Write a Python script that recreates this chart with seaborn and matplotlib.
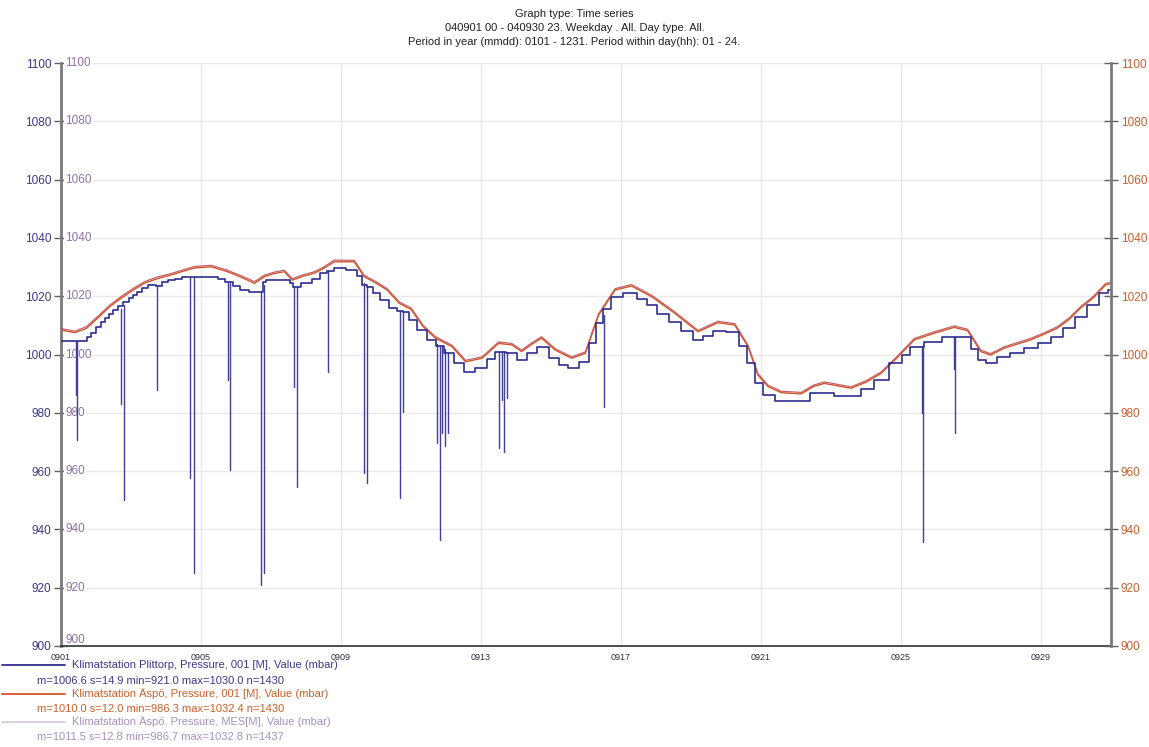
import matplotlib
matplotlib.use("Agg")
import matplotlib.pyplot as plt
import pandas as pd
import seaborn as sns
from matplotlib.lines import Line2D

# ---------------- data ----------------
title_lines = [
    "Graph type: Time series",
    "040901 00 - 040930 23. Weekday . All. Day type. All.",
    "Period in year (mmdd): 0101 - 1231. Period within day(hh): 01 - 24.",
]
x_tick_days = [0, 4, 8, 12, 16, 20, 24, 28]
x_tick_labels = ["0901", "0905", "0909", "0913", "0917", "0921", "0925", "0929"]
y_ticks = [900, 920, 940, 960, 980, 1000, 1020, 1040, 1060, 1080, 1100]

# Klimatstation Plittorp (days since 0901 00, mbar)
pit_days = [0.00, 0.30, 0.73, 0.78, 0.95, 1.06, 1.20, 1.30, 1.42, 1.54, 1.70, 1.87,
            2.00, 2.10, 2.25, 2.39, 2.60, 2.80, 2.96, 3.15, 3.34, 3.60, 4.36, 4.60,
            4.80, 5.00, 5.24, 5.50, 5.75, 5.82, 5.90, 6.48, 6.60, 6.67, 7.04, 7.30,
            7.52, 7.70, 7.90, 8.38, 8.55, 8.66, 8.80, 9.00, 9.23, 9.50, 9.70, 9.85,
            10.04, 10.30, 10.61, 10.80, 11.08, 11.35, 11.65, 12.03, 12.30, 12.51,
            12.89, 13.17, 13.45, 13.74, 14.12, 14.35, 14.60, 14.98, 15.20, 15.36,
            15.60, 15.83, 16.30, 16.60, 16.88, 17.20, 17.54, 17.90, 18.20, 18.50,
            18.77, 19.25, 19.50, 19.72, 19.91, 20.20, 20.58, 21.29, 21.53, 22.05,
            22.10, 22.67, 23.05, 23.43, 23.90, 24.15, 24.38, 24.95, 25.40, 25.90,
            26.10, 26.28, 26.56, 26.94, 27.30, 27.70, 28.10, 28.46, 28.80, 29.13,
            29.50, 29.84, 29.96]
pit_vals = [1004.7, 1004.7, 1004.7, 1006.1, 1007.5, 1009.3, 1011.0, 1012.5, 1014.0,
            1015.3, 1016.5, 1018.1, 1019.5, 1020.5, 1021.6, 1022.7, 1023.8, 1023.5,
            1025.0, 1025.4, 1025.8, 1026.5, 1026.5, 1025.8, 1025.0, 1023.5, 1022.1,
            1021.6, 1021.6, 1025.0, 1025.6, 1025.6, 1024.4, 1023.3, 1024.4, 1026.0,
            1027.9, 1028.5, 1029.6, 1029.0, 1027.0, 1023.8, 1023.0, 1021.0, 1018.7,
            1016.0, 1015.0, 1014.7, 1011.8, 1008.5, 1005.0, 1003.0, 1000.4, 997.0,
            994.1, 995.3, 998.5, 1001.0, 1000.4, 998.1, 1000.5, 1002.7, 998.7, 996.5,
            995.3, 997.5, 1004.0, 1010.7, 1015.5, 1019.8, 1021.0, 1019.0, 1017.0,
            1014.0, 1011.3, 1008.0, 1005.0, 1006.5, 1008.2, 1007.8, 1003.0, 997.0,
            990.1, 986.0, 984.0, 984.0, 986.9, 986.9, 985.8, 985.8, 988.0, 991.2,
            997.0, 1000.0, 1002.5, 1004.4, 1006.1, 1006.1, 1002.0, 998.1, 997.2,
            999.3, 1000.5, 1002.1, 1004.0, 1006.1, 1009.0, 1013.0, 1017.0, 1021.0,
            1022.0]

# Plittorp short drop-outs: time, level before the drop, lowest value
spike_days = [0.42, 0.45, 1.71, 1.79, 2.75, 3.68, 3.80, 4.77, 4.84, 5.72, 5.79,
              6.67, 6.73, 7.62, 8.66, 8.74, 9.69, 9.78, 10.73, 10.83, 10.89, 10.97,
              11.06, 12.51, 12.60, 12.67, 12.74, 15.50, 24.60, 24.64, 25.50, 25.54]
spike_tops = [1004.7, 1004.7, 1015.5, 1017.0, 1023.5, 1026.5, 1026.5, 1025.0, 1024.5,
              1021.6, 1024.0, 1023.3, 1023.3, 1028.5, 1024.5, 1023.5, 1015.0, 1014.7,
              1003.5, 1003.0, 1002.5, 1002.0, 1001.0, 1001.0, 1001.0, 1001.0, 1001.0,
              1013.5, 1003.0, 1003.0, 1006.1, 1006.1]
spike_lows = [986.0, 970.7, 983.0, 950.0, 987.8, 957.6, 925.0, 991.2, 960.4, 921.0,
              925.0, 989.0, 954.7, 994.0, 959.3, 956.0, 950.8, 980.4, 969.5, 936.4,
              973.0, 968.7, 973.0, 967.8, 984.4, 966.7, 985.0, 982.1, 980.0, 935.8,
              995.0, 973.0]

# Klimatstation Aspo, 001 and MES
aspo_days = [0.00, 0.40, 0.73, 1.05, 1.40, 1.73, 2.05, 2.39, 2.75, 3.15, 3.50, 3.82,
             4.29, 4.76, 5.15, 5.53, 5.81, 6.10, 6.38, 6.61, 6.90, 7.24, 7.50, 7.81,
             8.38, 8.66, 9.00, 9.32, 9.66, 9.85, 10.00, 10.35, 10.70, 11.17, 11.56,
             12.03, 12.50, 12.88, 13.16, 13.45, 13.73, 14.12, 14.59, 14.98, 15.36,
             15.83, 16.30, 16.88, 17.54, 18.20, 18.77, 19.25, 19.63, 19.91, 20.20,
             20.58, 21.15, 21.50, 21.81, 22.57, 23.00, 23.43, 23.90, 24.38, 24.95,
             25.52, 25.90, 26.28, 26.56, 26.94, 27.30, 27.70, 28.10, 28.46, 28.80,
             29.13, 29.50, 29.84, 29.96]
aspo_001 = [1008.4, 1007.5, 1009.0, 1012.5, 1016.5, 1019.4, 1022.0, 1024.5, 1026.0,
            1027.3, 1028.6, 1029.7, 1030.1, 1028.4, 1026.5, 1024.4, 1026.7, 1027.8,
            1028.4, 1025.5, 1026.8, 1027.9, 1029.5, 1031.8, 1031.8, 1026.7, 1024.5,
            1022.1, 1017.6, 1016.4, 1015.5, 1009.5, 1005.6, 1002.7, 997.5, 998.7,
            1003.8, 1003.3, 1001.0, 1003.5, 1005.6, 1001.5, 998.7, 1000.4, 1013.5,
            1022.1, 1023.5, 1019.8, 1014.1, 1007.8, 1010.9, 1010.1, 1002.7, 993.0,
            989.0, 986.9, 986.5, 989.0, 990.1, 988.4, 990.5, 993.5, 999.0, 1005.0,
            1007.3, 1009.3, 1008.2, 1001.0, 999.8, 1002.1, 1003.5, 1005.0, 1007.0,
            1009.0, 1012.0, 1015.9, 1019.5, 1023.8, 1024.2]
aspo_mes = [1008.9, 1008.0, 1009.6, 1013.1, 1017.0, 1020.0, 1022.6, 1025.0, 1026.6,
            1027.8, 1029.1, 1030.2, 1030.6, 1028.9, 1027.0, 1025.0, 1027.2, 1028.3,
            1028.9, 1026.0, 1027.3, 1028.4, 1030.0, 1032.4, 1032.3, 1027.2, 1025.0,
            1022.6, 1018.1, 1016.9, 1016.0, 1010.0, 1006.1, 1003.2, 998.0, 999.2,
            1004.3, 1003.8, 1001.5, 1004.0, 1006.1, 1002.0, 999.2, 1000.9, 1014.0,
            1022.6, 1024.0, 1020.3, 1014.6, 1008.3, 1011.4, 1010.6, 1003.2, 993.5,
            989.5, 987.4, 987.0, 989.5, 990.6, 988.9, 991.0, 994.0, 999.5, 1005.5,
            1007.8, 1009.8, 1008.7, 1001.5, 1000.3, 1002.6, 1004.0, 1005.5, 1007.5,
            1009.5, 1012.5, 1016.4, 1020.0, 1024.3, 1024.7]

legend_names = [
    "Klimatstation Plittorp, Pressure, 001 [M], Value (mbar)",
    "Klimatstation Äspö, Pressure, 001 [M], Value (mbar)",
    "Klimatstation Äspö, Pressure, MES[M], Value (mbar)",
]
legend_stats = [
    "m=1006.6 s=14.9 min=921.0 max=1030.0 n=1430",
    "m=1010.0 s=12.0 min=986.3 max=1032.4 n=1430",
    "m=1011.5 s=12.8 min=986.7 max=1032.8 n=1437",
]

# ---------------- style ----------------
C_BLUE = "#2e2e8e"
C_SPIKE = "#40409a"
C_ORANGE = "#d2552c"
C_MES = "#b04050"
C_TXT_BLUE = "#3a3a8a"
C_TXT_ORANGE = "#c8602c"
C_TXT_MES = "#a890c0"
C_LEG_MES = "#dcc8e0"

sns.set_theme(style="white")
plt.rcParams["font.family"] = ["Liberation Sans", "DejaVu Sans"]

W, H = 1149, 747
fig = plt.figure(figsize=(W / 100, H / 100), dpi=100)
ax = fig.add_axes([61 / W, 1 - 646 / H, 1050 / W, 583 / H])

df_pit = pd.DataFrame({"day": pit_days, "p": pit_vals})
df_aspo = pd.DataFrame({"day": aspo_days, "a001": aspo_001, "mes": aspo_mes})
df_spk = pd.DataFrame({
    "sid": list(range(len(spike_days))) * 2,
    "day": spike_days + spike_days,
    "val": spike_tops + spike_lows,
})

sns.lineplot(data=df_aspo, x="day", y="mes", ax=ax, color=C_MES, lw=0.9, alpha=0.8,
             estimator=None, sort=False, zorder=3)
sns.lineplot(data=df_aspo, x="day", y="a001", ax=ax, color=C_ORANGE, lw=1.0,
             estimator=None, sort=False, zorder=4)
sns.lineplot(data=df_spk, x="day", y="val", units="sid", ax=ax, color=C_SPIKE, lw=1.0,
             estimator=None, sort=False, zorder=5)
sns.lineplot(data=df_pit, x="day", y="p", ax=ax, color=C_BLUE, lw=1.2,
             drawstyle="steps-mid", estimator=None, sort=False, zorder=6)

ax.set_xlim(0, 30)
ax.set_ylim(900, 1100)
ax.set_xlabel("")
ax.set_ylabel("")
ax.set_xticks(x_tick_days)
ax.set_xticklabels(x_tick_labels)
ax.set_yticks(y_ticks)
ax.set_yticklabels([str(v) for v in y_ticks])
ax.set_axisbelow(True)
ax.grid(True, color="#e9e9e9", lw=1.0)

ax.tick_params(axis="x", direction="inout", length=8, width=1, color="#404040",
               labelsize=6.5, labelcolor="#303040", pad=1)
ax.tick_params(axis="y", direction="inout", length=10, width=1, color="#606060",
               labelsize=8.5, labelcolor=C_TXT_BLUE, pad=2, left=True)

for s in ["top", "right"]:
    ax.spines[s].set_visible(False)
ax.spines["left"].set_color("#7a7a7a")
ax.spines["left"].set_linewidth(2)
ax.spines["bottom"].set_color("#303030")
ax.spines["bottom"].set_linewidth(1.2)

# inner (secondary) left labels
for v in y_ticks:
    va = "bottom" if v == 900 else "center"
    ax.text(0.004, v, str(v), transform=ax.get_yaxis_transform(), ha="left", va=va,
            fontsize=8.5, color="#9070a8", zorder=2,
            bbox=dict(fc="white", ec="none", pad=1))

# right axis
ax2 = ax.twinx()
ax2.set_ylim(900, 1100)
ax2.set_yticks(y_ticks)
ax2.set_yticklabels([str(v) for v in y_ticks])
ax2.tick_params(axis="y", direction="inout", length=10, width=1, color="#606060",
                labelsize=8.5, labelcolor=C_TXT_ORANGE, pad=2, right=True)
for s in ["top", "left", "bottom"]:
    ax2.spines[s].set_visible(False)
ax2.spines["right"].set_color("#7a7a7a")
ax2.spines["right"].set_linewidth(2)
ax2.grid(False)

# title
for i, t in enumerate(title_lines):
    fig.text(0.5, 1 - (14 + 14 * i) / H, t, ha="center", va="center",
             fontsize=8, color="#202020")

# legend block
leg_colors = [C_BLUE, C_ORANGE, C_LEG_MES]
txt_colors = [C_TXT_BLUE, C_TXT_ORANGE, C_TXT_MES]
for i in range(3):
    y_line = 1 - (665 + 28.5 * i) / H
    y_stat = 1 - (681 + 28 * i) / H
    fig.add_artist(Line2D([2 / W, 65 / W], [y_line, y_line], transform=fig.transFigure,
                          color=leg_colors[i], lw=1.3))
    fig.text(72 / W, y_line, legend_names[i], ha="left", va="center",
             fontsize=8, color=txt_colors[i])
    fig.text(37 / W, y_stat, legend_stats[i], ha="left", va="center",
             fontsize=8, color=txt_colors[i])

fig.savefig("out.png", dpi=100)
